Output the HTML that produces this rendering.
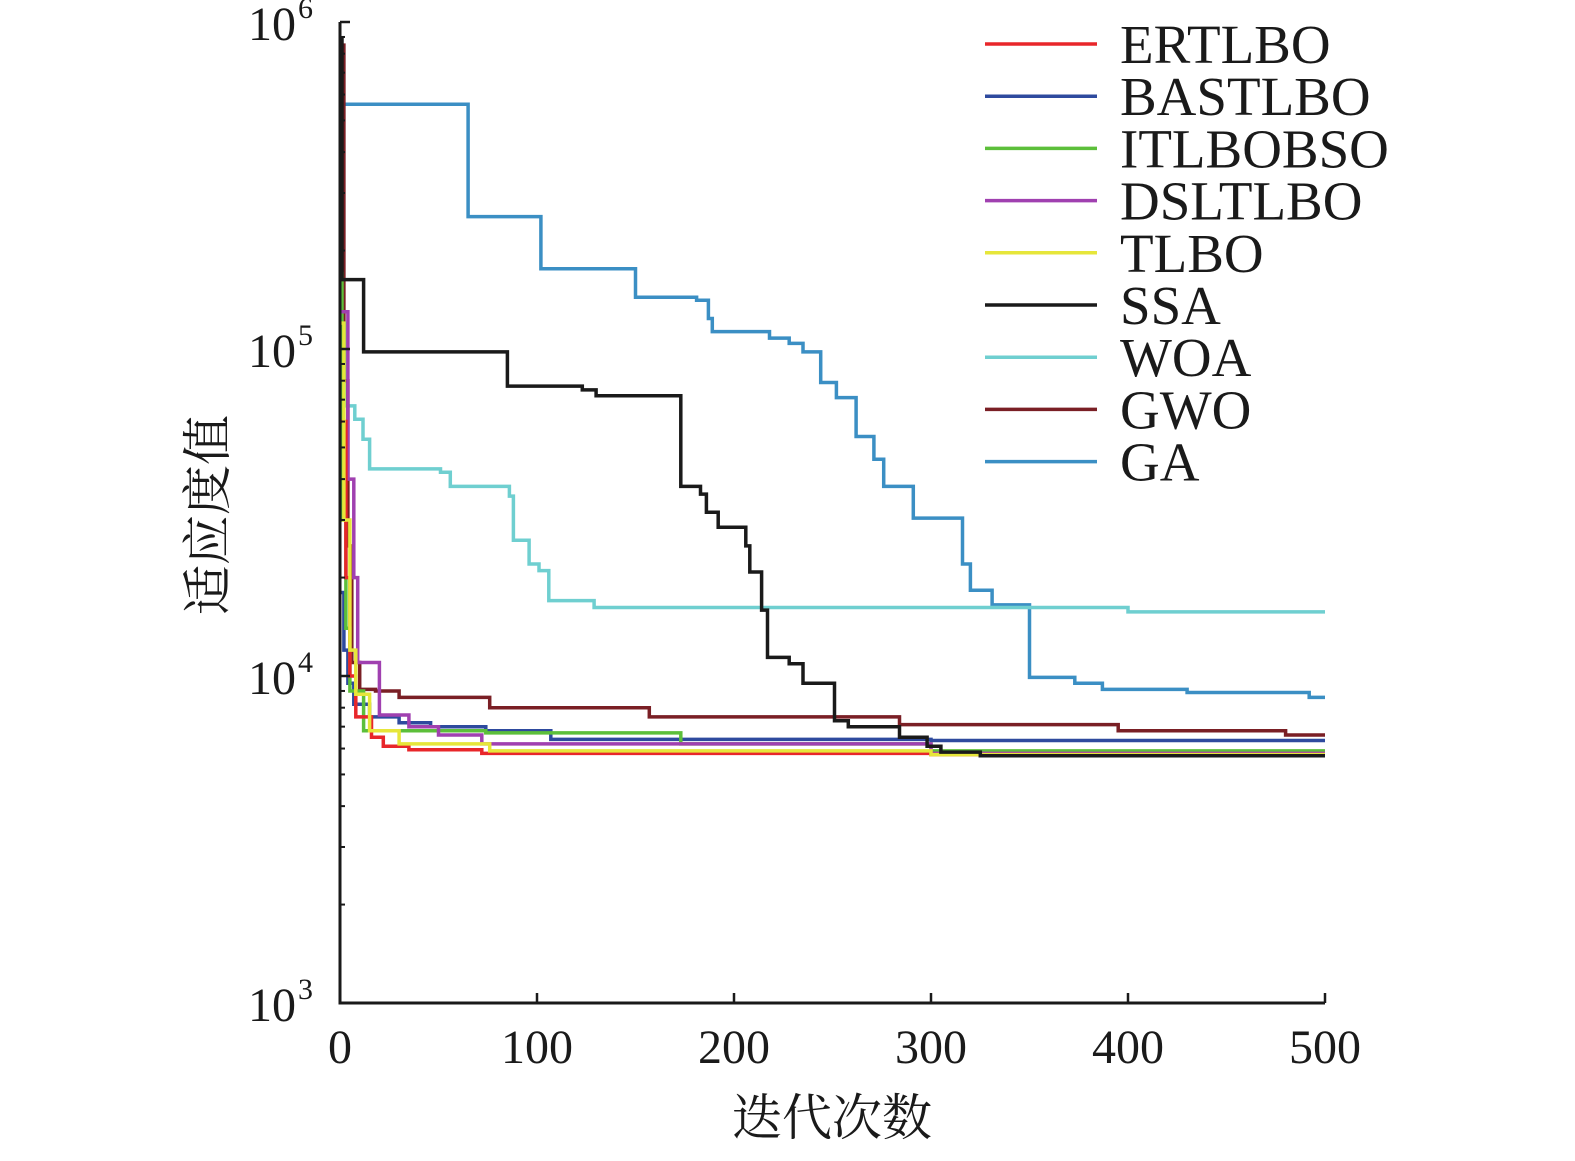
<!DOCTYPE html>
<html><head><meta charset="utf-8"><style>
html,body{margin:0;padding:0;background:#fff;overflow:hidden;width:1575px;height:1161px;}
svg{display:block;}
text{font-family:"Liberation Serif","Noto Serif CJK SC",serif;fill:#1a1a1a;}
</style></head><body>
<svg id="chart" width="1575" height="1161" viewBox="0 0 1575 1161" xmlns="http://www.w3.org/2000/svg">
<g id="series"></g>
<g id="axes"></g>
<g id="legend"></g>
<text x="832" y="1135" font-size="50" text-anchor="middle" style="font-family:'Noto Serif CJK SC','Noto Sans CJK SC',serif">迭代次数</text>
<text transform="translate(225,515) rotate(-90)" font-size="50" text-anchor="middle" style="font-family:'Noto Serif CJK SC','Noto Sans CJK SC',serif">适应度值</text>
</svg>
<script>
const seriesNames=["GA","WOA","GWO","BASTLBO","ITLBOBSO","DSLTLBO","ERTLBO","TLBO","SSA"];
const gaX=[0,65,102,150,181,187,189,218,228,235,244,252,262,271,276,291,316,320,331,350,373,387,430,492];
const gaY=[560000,254000,176000,144000,141000,124000,113000,108000,104000,98000,79000,71000,54000,46000,38000,30400,22000,18300,16500,9900,9500,9100,8900,8600];
const woaX=[0,3.5,7.5,11.7,15,51,56,86,88,96,101,106,129];
const woaY=[120000,67000,61000,53000,43000,42000,38000,35500,26000,22000,21000,17000,16200];
const woaEnd=15700;
const gwoX=[0,2,4,6,10,18,30,76,157,284,395];
const gwoY=[850000,80000,25000,11000,9100,9000,8600,8000,7500,7100,6800];
const gwoEnd=6600;
const basX=[0,2,4,7,15,30,46,74,107];
const basY=[18000,12000,9500,8200,7500,7200,7000,6800,6400];
const basEnd=6350;
const itlX=[0,1,3,5,12,74,173];
const itlY=[170000,30000,14000,9000,6800,6700,6200];
const itlEnd=5900;
const dslX=[0,4,7,9,20,35,50,72];
const dslY=[130000,40000,20000,11000,7600,7000,6600,6200];
const dslEnd=5800;
const ertX=[0,3,5,8,16,22,35,72];
const ertY=[60000,20000,10000,7500,6500,6100,5950,5800];
const ertEnd=5750;
const tlbX=[0,2,5,8,15,30,76];
const tlbY=[120000,30000,12000,8800,6800,6200,5900];
const tlbEnd=5750;
const ssaX=[0,1,12,85,123,130,173,183,186,192,206,208,214,217,228,235,251,258,284,298,305,325];
const ssaY=[890000,163000,98000,77000,75000,72000,38000,36000,31700,28500,25000,20800,15900,11400,10900,9500,7300,7000,6500,6100,5850,5700];
const ssaEnd=5700;
const xTicks=[0,100,200,300,400,500];
const yTicks=[3,4,5,6];

const X0=340,X1=1325,Ytop=22,Ybot=1003;
const xs=v=>X0+(X1-X0)*v/500;
const ys=v=>Ybot-(Ybot-Ytop)*(Math.log10(v)-3)/3;
const NS="http://www.w3.org/2000/svg";
function mk(tag,attrs,parent){const e=document.createElementNS(NS,tag);for(const k in attrs)e.setAttribute(k,attrs[k]);parent.appendChild(e);return e;}
const sg=document.getElementById('series');
function step(name,xa,ya,color){
  let d="M"+xs(xa[0]).toFixed(1)+","+ys(ya[0]).toFixed(1);
  for(let i=1;i<xa.length;i++){d+=" H"+xs(xa[i]).toFixed(1)+" V"+ys(ya[i]).toFixed(1);}
  d+=" H"+xs(500).toFixed(1);
  const p=mk('path',{d:d,fill:"none",stroke:color,"stroke-width":3.5},sg);
  
  
}
step("GA",gaX,gaY,"#3b8fc4");
step("WOA",woaX.concat([400]),woaY.concat([woaEnd]),"#6fcfd0");
step("GWO",gwoX.concat([480]),gwoY.concat([gwoEnd]),"#7a1f25");
step("BASTLBO",basX.concat([300]),basY.concat([basEnd]),"#2e4a9e");
step("ITLBOBSO",itlX.concat([300]),itlY.concat([itlEnd]),"#5cbf3a");
step("DSLTLBO",dslX.concat([300]),dslY.concat([dslEnd]),"#a040b0");
step("ERTLBO",ertX.concat([300]),ertY.concat([ertEnd]),"#e8262a");
step("TLBO",tlbX.concat([300]),tlbY.concat([tlbEnd]),"#e6e63a");
step("SSA",ssaX.concat([400]),ssaY.concat([ssaEnd]),"#1a1a1a");

const ag=document.getElementById('axes');
let a=mk('path',{d:`M${X0},${Ytop} V${Ybot} H${X1}`,fill:"none",stroke:"#1a1a1a","stroke-width":3},ag);


xTicks.forEach(t=>{
  const l=mk('line',{x1:xs(t),x2:xs(t),y1:Ybot,y2:Ybot-10,stroke:"#1a1a1a","stroke-width":2.5},ag);
  
  
  const tx=mk('text',{x:xs(t),y:1063,"font-size":48,"text-anchor":"middle"},ag);
  tx.textContent=t;
  
  
});
yTicks.forEach(t=>{
  const y=ys(Math.pow(10,t));
  const l=mk('line',{x1:X0,x2:X0+10,y1:y,y2:y,stroke:"#1a1a1a","stroke-width":2.5},ag);
  
  
  const tx=mk('text',{x:296,y:y+18,"font-size":48,"text-anchor":"end"},ag);
  tx.textContent="10";
  
  
  const sp=mk('text',{x:298,y:y-4,"font-size":30},ag);
  sp.textContent=String(t);
  
  
  if(t<6){for(let m=2;m<=9;m++){
    const yy=ys(m*Math.pow(10,t));
    const ml=mk('line',{x1:X0,x2:X0+5,y1:yy,y2:yy,stroke:"#1a1a1a","stroke-width":2},ag);
    
    
  }}
});
const lg=document.getElementById('legend');
const legNames=["ERTLBO","BASTLBO","ITLBOBSO","DSLTLBO","TLBO","SSA","WOA","GWO","GA"];
const legCols=["#e8262a","#2e4a9e","#5cbf3a","#a040b0","#e6e63a","#1a1a1a","#6fcfd0","#7a1f25","#3b8fc4"];
legNames.forEach((n,i)=>{
  const y=44+i*52.2;
  const l=mk('line',{x1:985,x2:1097,y1:y,y2:y,stroke:legCols[i],"stroke-width":3.5},lg);
  
  
  const t=mk('text',{x:1120,y:y+19,"font-size":55},lg);
  t.textContent=n;
  
  
});
</script>
</body></html>
